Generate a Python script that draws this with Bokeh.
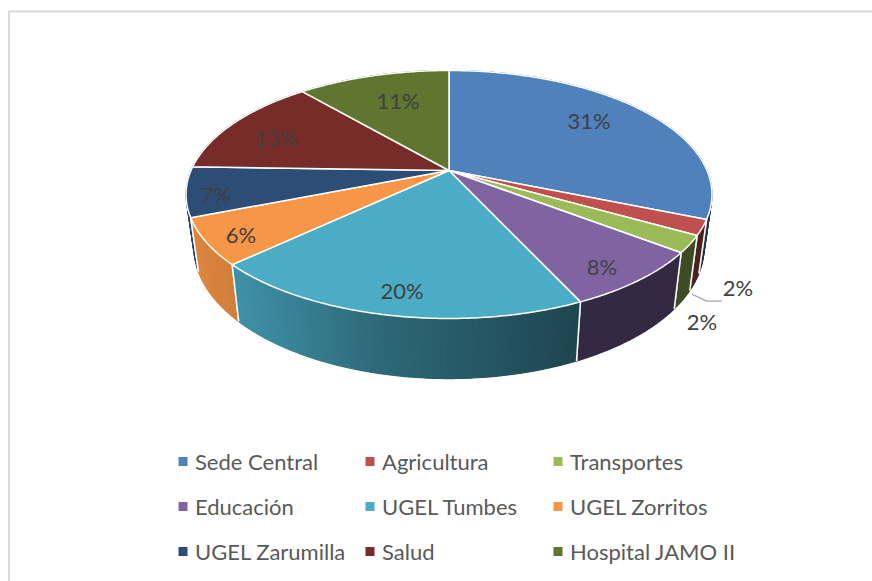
import numpy as np
from bokeh.plotting import figure
from bokeh.models import Range1d
from bokeh.core.properties import value
from bokeh.embed import file_html
from bokeh.resources import INLINE

categories = ["Sede Central", "Agricultura", "Transportes", "Educación", "UGEL Tumbes",
              "UGEL Zorritos", "UGEL Zarumilla", "Salud", "Hospital JAMO II"]
shares = [31.2, 2.0, 2.2, 7.7, 19.9, 6.0, 6.5, 13.2, 11.3]
percent_labels = ["31%", "2%", "2%", "8%", "20%", "6%", "7%", "13%", "11%"]
colors = ["#4f81bd", "#c0504d", "#9bbb59", "#8064a2", "#4bacc6",
          "#f79646", "#2c4d75", "#772c2a", "#5f7530"]

# layout of the perspective pie, in page pixels
CX, CY, A, B, K = 449.0, 171.0, 258.0, 119.35, 0.1935
label_x = [589, 738, 702, 602, 402, 241, 216, 276, 398]
label_y = [121, 288, 322, 267, 291, 235, 195, 138, 101]
legend_x = [183, 370, 558]
legend_y = [462, 507, 552]

W, H = 872, 581


def top_xy(theta):
    u, v = np.sin(theta), np.cos(theta)
    w = 1 + K * v
    return CX + A * u / w, CY - B * v / w


def bottom_xy(theta):
    x, y = top_xy(theta)
    return CX + 0.97 * (x - CX), y + 54 + 0.06 * (y - 218)


def shade(x):
    return np.interp((x - CX) / 263.0, [-1, -0.8, -0.24, 0.5, 1], [0.9, 0.84, 0.6, 0.41, 0.41])


def darker(hex_color, f):
    r, g, b = (int(hex_color[i:i + 2], 16) for i in (1, 3, 5))
    return "#%02x%02x%02x" % (int(r * f), int(g * f), int(b * f))


p = figure(width=W, height=H, output_backend="svg", toolbar_location=None,
           x_range=Range1d(0.5, W + 0.5), y_range=Range1d(H + 1, 1),
           x_axis_type=None, y_axis_type=None,
           min_border_left=0, min_border_top=0, min_border_right=0, min_border_bottom=0)
p.grid.visible = False
p.outline_line_color = None
p.background_fill_color = "white"

# chart-area border: only its left and top edges fall inside the crop
p.line([9, 9, W + 1], [H + 1, 12, 12], line_color="#d9d9d9", line_width=2)

edges = 2 * np.pi * np.cumsum([0] + shares) / sum(shares)
slices = list(zip(edges[:-1], edges[1:], colors))

# side walls, far ones first
order = sorted(slices, key=lambda s: top_xy((s[0] + s[1]) / 2)[1])
for a0, a1, col in order:
    n = max(2, int((a1 - a0) / 0.02))
    th = np.linspace(a0, a1, n + 1)
    for t0, t1 in zip(th[:-1], th[1:]):
        ts = np.array([t0, t1])
        xt, yt = top_xy(ts)
        xb, yb = bottom_xy(ts)
        c = darker(col, float(shade((xt[0] + xt[1]) / 2)))
        p.patch(list(xt) + list(xb[::-1]), list(yt) + list(yb[::-1]),
                fill_color=c, line_color=c, line_width=1.2)
    for t in (a0, a1):
        xt, yt = top_xy(t)
        xb, yb = bottom_xy(t)
        if np.cos(t) < 0.1:
            p.line([xt, xb], [yt, yb], line_color="white", line_width=1.5)

# top faces
for a0, a1, col in slices:
    th = np.linspace(a0, a1, max(3, int((a1 - a0) / 0.01)))
    x, y = top_xy(th)
    p.patch([CX] + list(x), [CY] + list(y), fill_color=col, line_color="white",
            line_width=1.5, line_join="round")

# leader line of the second label
mid = (edges[1] + edges[2]) / 2
lx, ly = bottom_xy(mid)
p.line([lx - 3, lx + 12, label_x[1] - 16], [ly + 12, ly + 19, ly + 19],
       line_color="#a6a6a6", line_width=1.2)

p.text(label_x, label_y, text=percent_labels, text_font=value("Lato"), text_font_size="22px",
       text_color="#404040", text_align="center", text_baseline="middle")

# legend, three rows of three
sq_x = [legend_x[i % 3] for i in range(len(categories))]
sq_y = [legend_y[i // 3] for i in range(len(categories))]
p.scatter(sq_x, sq_y, marker="square", size=9, fill_color=colors, line_color=None)
p.text([x + 12 for x in sq_x], sq_y, text=categories, text_font=value("Lato"),
       text_font_size="22px", text_color="#595959", text_align="left", text_baseline="middle")

open("out.html", "w").write(file_html(p, INLINE))
